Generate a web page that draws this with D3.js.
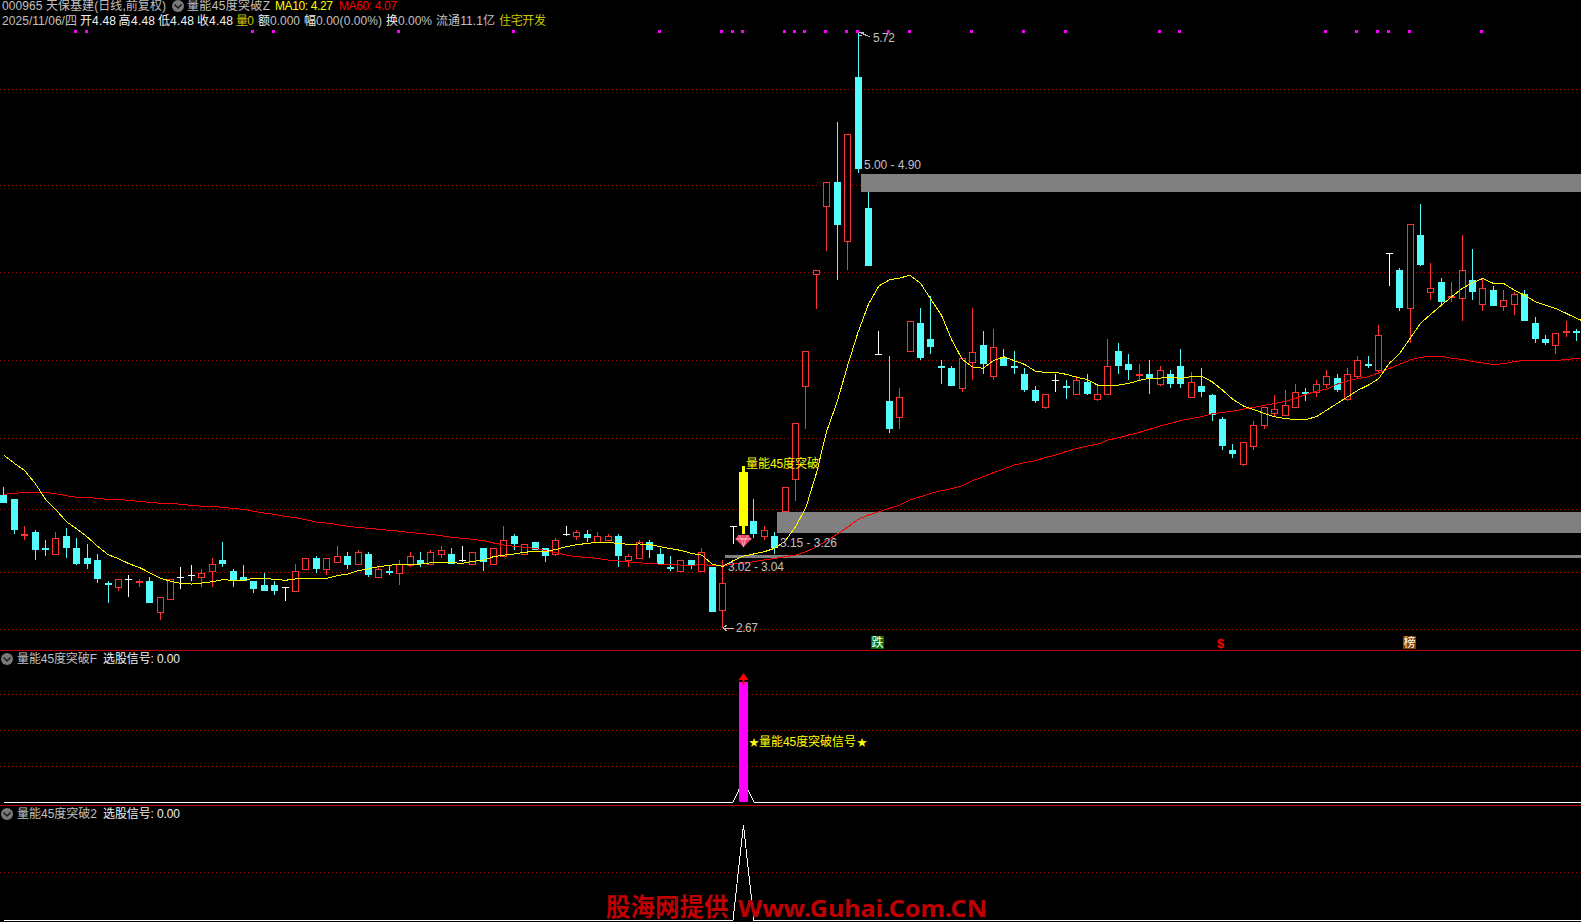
<!DOCTYPE html>
<html><head><meta charset="utf-8">
<style>html,body{margin:0;background:#000;overflow:hidden}svg{display:block}text{font-family:"Liberation Sans","Noto Sans CJK SC",sans-serif;font-size:12px;dominant-baseline:central}</style>
<script src="https://cdn.jsdelivr.net/npm/d3@7/dist/d3.min.js"></script></head><body>
<svg id="c" width="1581" height="922"></svg>
<script>
const opens=[3.35,3.33,3.14,3.16,3.08,3.05,3.14,3.08,3.03,3.02,2.90,2.88,2.92,2.90,2.91,2.75,2.82,2.93,2.94,2.93,2.96,3.02,2.96,2.93,2.91,2.89,2.89,2.88,2.86,2.97,3.03,2.97,3.01,3.04,3.00,3.05,2.93,2.96,2.95,2.99,3.02,3.00,3.05,3.05,3.02,3.00,3.08,3.00,3.04,3.14,3.05,3.11,3.08,3.05,3.15,3.14,3.15,3.11,3.12,3.14,3.02,3.03,3.11,3.05,2.98,2.96,3.02,2.96,2.98,2.76,3.19,3.19,3.22,3.14,3.14,3.27,3.43,3.91,4.48,4.83,4.95,4.65,5.49,4.82,4.07,3.83,3.75,4.09,4.23,4.15,4.01,4.00,3.90,4.03,4.12,3.96,4.05,4.01,3.97,3.89,3.80,3.94,3.91,3.87,3.93,3.84,3.87,4.09,4.02,3.96,3.97,3.92,3.97,4.01,3.85,3.91,3.86,3.74,3.58,3.51,3.60,3.71,3.77,3.76,3.80,3.88,3.88,3.92,3.95,3.84,3.96,4.02,3.99,4.59,4.50,4.31,4.68,4.39,4.44,4.36,4.36,4.45,4.33,4.40,4.32,4.33,4.38,4.23,4.15,4.12,4.18,4.19];
const highs=[3.39,3.33,3.19,3.17,3.12,3.16,3.18,3.13,3.10,3.05,2.91,2.92,2.94,2.92,2.93,2.83,2.92,2.98,2.99,2.97,3.03,3.11,2.97,2.99,2.91,2.95,2.91,2.88,3.00,3.03,3.04,3.03,3.09,3.06,3.07,3.06,2.98,2.99,3.02,3.06,3.06,3.07,3.09,3.08,3.09,3.06,3.08,3.08,3.19,3.15,3.10,3.11,3.08,3.13,3.19,3.17,3.17,3.16,3.15,3.15,3.05,3.12,3.12,3.08,3.04,3.02,3.02,3.08,2.98,3.02,3.19,3.50,3.33,3.19,3.16,3.39,3.72,4.09,4.50,4.95,5.26,5.20,5.72,4.95,4.19,4.06,3.90,4.24,4.31,4.37,4.04,4.01,4.05,4.31,4.19,4.20,4.10,4.09,4.00,3.91,3.87,3.97,3.94,3.96,3.97,3.91,4.15,4.13,4.07,4.02,4.04,4.01,3.99,4.10,3.98,4.00,3.87,3.75,3.61,3.62,3.73,3.80,3.86,3.89,3.92,3.90,3.94,3.99,3.97,4.00,4.06,4.06,4.22,4.59,4.51,4.74,4.84,4.54,4.46,4.44,4.68,4.61,4.46,4.42,4.40,4.39,4.40,4.26,4.17,4.18,4.24,4.20];
const lows=[3.31,3.15,3.12,3.02,3.04,3.05,3.03,2.99,2.97,2.90,2.80,2.86,2.83,2.88,2.80,2.71,2.82,2.87,2.91,2.88,2.88,2.98,2.88,2.91,2.85,2.86,2.84,2.81,2.86,2.97,2.95,2.94,3.01,2.97,2.99,2.93,2.93,2.94,2.89,2.98,2.98,3.00,3.03,3.00,3.01,2.99,2.96,3.00,3.04,3.07,3.05,3.07,3.01,3.04,3.14,3.12,3.11,3.11,3.12,2.98,2.98,3.03,3.03,2.99,2.96,2.96,2.97,2.96,2.75,2.67,3.10,3.15,3.13,3.12,3.05,3.27,3.32,3.69,4.30,4.60,4.45,4.50,5.00,4.52,4.07,3.67,3.69,4.09,4.04,4.07,3.92,3.91,3.88,3.94,3.97,3.94,4.01,3.97,3.88,3.82,3.79,3.88,3.84,3.87,3.86,3.83,3.86,3.97,3.94,3.94,3.87,3.91,3.90,3.90,3.85,3.85,3.73,3.58,3.54,3.50,3.58,3.69,3.75,3.76,3.80,3.83,3.85,3.90,3.88,3.83,3.95,4.00,3.97,4.42,4.29,4.13,4.52,4.35,4.33,4.34,4.24,4.35,4.29,4.32,4.29,4.27,4.24,4.13,4.12,4.07,4.16,4.14];
const closes=[3.31,3.17,3.15,3.07,3.07,3.13,3.08,3.00,3.00,2.92,2.89,2.92,2.92,2.91,2.80,2.83,2.92,2.93,2.94,2.95,3.00,3.00,2.91,2.91,2.87,2.86,2.86,2.88,2.96,3.03,2.97,3.03,3.04,2.99,3.06,2.94,2.97,2.95,3.00,3.04,3.00,3.06,3.07,3.00,3.02,3.06,3.01,3.08,3.12,3.10,3.10,3.07,3.04,3.12,3.15,3.16,3.13,3.14,3.14,3.04,3.04,3.11,3.07,3.00,2.97,3.02,2.99,3.06,2.75,2.90,3.19,3.47,3.15,3.17,3.08,3.39,3.72,4.09,4.50,4.95,4.73,5.20,5.02,4.52,4.07,3.69,3.85,4.24,4.05,4.11,4.00,3.91,4.05,4.08,4.02,4.11,4.01,4.00,3.89,3.83,3.87,3.94,3.90,3.94,3.87,3.87,4.01,4.01,3.99,3.97,3.95,3.99,3.92,3.92,3.93,3.88,3.76,3.60,3.56,3.62,3.71,3.80,3.79,3.81,3.88,3.87,3.92,3.96,3.89,3.97,4.04,4.01,4.17,4.59,4.31,4.74,4.53,4.41,4.34,4.37,4.50,4.39,4.41,4.32,4.35,4.38,4.24,4.15,4.13,4.18,4.19,4.18];
const ma10=[3.554,3.513,3.475,3.410,3.328,3.275,3.214,3.177,3.136,3.088,3.045,3.025,2.999,2.980,2.953,2.926,2.909,2.898,2.895,2.900,2.907,2.917,2.914,2.914,2.924,2.924,2.919,2.914,2.921,2.924,2.924,2.924,2.938,2.946,2.963,2.973,2.984,2.991,2.996,2.997,2.997,3.004,3.006,3.004,3.001,3.011,3.016,3.035,3.043,3.049,3.057,3.064,3.060,3.072,3.086,3.096,3.103,3.108,3.108,3.103,3.098,3.100,3.098,3.086,3.076,3.067,3.052,3.043,2.997,2.985,3.014,3.038,3.049,3.060,3.078,3.115,3.188,3.287,3.461,3.678,3.828,4.012,4.183,4.326,4.420,4.451,4.461,4.475,4.434,4.352,4.272,4.144,4.045,4.006,3.999,4.038,4.058,4.038,4.019,3.985,3.978,3.978,3.968,3.953,3.942,3.913,3.912,3.913,3.922,3.937,3.948,3.949,3.953,3.948,3.956,3.957,3.930,3.887,3.840,3.806,3.788,3.768,3.751,3.742,3.737,3.737,3.751,3.785,3.819,3.853,3.887,3.913,3.947,4.024,4.075,4.152,4.229,4.276,4.322,4.365,4.408,4.437,4.459,4.433,4.433,4.399,4.374,4.340,4.322,4.305,4.280,4.254,4.232];
const ma60=[3.354,3.359,3.364,3.364,3.364,3.357,3.347,3.339,3.339,3.333,3.328,3.328,3.323,3.318,3.313,3.308,3.308,3.303,3.298,3.293,3.293,3.287,3.282,3.277,3.267,3.258,3.252,3.241,3.235,3.224,3.212,3.207,3.200,3.190,3.185,3.180,3.175,3.170,3.165,3.159,3.153,3.149,3.142,3.134,3.129,3.124,3.117,3.105,3.095,3.088,3.083,3.078,3.066,3.055,3.043,3.035,3.031,3.026,3.018,3.013,3.008,3.004,2.999,2.997,2.996,2.992,2.991,2.994,2.991,2.987,2.997,3.003,3.009,3.018,3.026,3.035,3.043,3.060,3.086,3.117,3.151,3.185,3.226,3.248,3.265,3.282,3.298,3.325,3.342,3.359,3.373,3.383,3.398,3.424,3.444,3.465,3.484,3.504,3.516,3.526,3.543,3.555,3.574,3.588,3.601,3.610,3.632,3.644,3.658,3.671,3.687,3.704,3.717,3.732,3.742,3.751,3.766,3.773,3.780,3.790,3.799,3.809,3.819,3.829,3.845,3.865,3.882,3.893,3.918,3.934,3.947,3.956,3.976,3.998,4.020,4.041,4.055,4.060,4.060,4.050,4.044,4.034,4.026,4.019,4.022,4.034,4.039,4.039,4.039,4.039,4.044,4.050,4.053];
const gridPrices=[5.427,4.935,4.49,4.04,3.64,3.277,2.955,2.66];
const bands=[[4.995,4.90,82],[3.265,3.155,74],[3.043,3.028,69]];
const signalIdx=71;
const dotIdx=[7,8,24,26,38,49,63,69,70,71,75,76,77,79,81,82,85,87,93,98,102,111,113,127,130,132,133,135,142];
const paneFIdx=[0,70,71,72,152], paneFVal=[0,0,0.18,0,0];
const pane2Idx=[0,70,71,72,152], pane2Val=[0,0,1,0,0];
const paneFGrid=[0.3,0.6,0.9], pane2Grid=[0.5];

const svg=d3.select('#c');
const x=d3.scaleLinear().domain([0,152]).range([3.4,3.4+10.416*152]);
const y=d3.scaleLinear().domain([2.67,5.72]).range([628,32]);
const yF=d3.scaleLinear().domain([0,1]).range([802,682]);
const y2=d3.scaleLinear().domain([0,1]).range([920,825]);
const col=i=>Math.round(x(i));
const RED='#ff3232',CY='#54fcfc',GRID='#a80000',SEP='#c00000',GR='#c0c0c0',YE='#ffff00';
function hline(g,yy,c,dash,w){g.append('line').attr('x1',0).attr('x2',1581).attr('y1',Math.floor(yy)+.5).attr('y2',Math.floor(yy)+.5).attr('stroke',c).attr('stroke-width',w||1).attr('stroke-dasharray',dash||null).attr('shape-rendering','crispEdges');}
const gGrid=svg.append('g');
gridPrices.forEach(p=>hline(gGrid,y(p),GRID,'1 3'));
paneFGrid.forEach(v=>hline(gGrid,yF(v),GRID,'1 3'));
pane2Grid.forEach(v=>hline(gGrid,y2(v),GRID,'1 3'));
hline(gGrid,650,SEP);hline(gGrid,805,SEP);

// candles
const gC=svg.append('g').attr('shape-rendering','crispEdges');
opens.forEach((o,i)=>{
 const h=highs[i],l=lows[i],c=closes[i],cx=col(i);
 const yH=Math.round(y(h)),yL=Math.round(y(l)),yT=Math.round(y(Math.max(o,c))),yB=Math.round(y(Math.min(o,c)));
 if(i===signalIdx){
  gC.append('rect').attr('x',cx-1).attr('width',3).attr('y',yH).attr('height',yL-yH).attr('fill',YE);
  gC.append('rect').attr('x',cx-4).attr('width',9).attr('y',yT).attr('height',yB-yT).attr('fill',YE);
  return;
 }
 const color=o===c?'#ffffff':(c>o?RED:CY);
 gC.append('rect').attr('x',cx).attr('width',1).attr('y',yH).attr('height',Math.max(1,yL-yH)).attr('fill',color);
 if(o===c){gC.append('rect').attr('x',cx-3).attr('width',7).attr('y',yT).attr('height',1).attr('fill',color);}
 else if(c>o&&yB-yT>=3){
  gC.append('rect').attr('x',cx-3+.5).attr('width',6).attr('y',yT+.5).attr('height',yB-yT).attr('fill','#000').attr('stroke',color);
 } else {
  gC.append('rect').attr('x',cx-3).attr('width',7).attr('y',yT).attr('height',Math.max(2,yB-yT)).attr('fill',color);
 }
});
// bands
bands.forEach(b=>{const t0=Math.round(y(b[0])),t1=Math.round(y(b[1]));svg.append('rect').attr('x',col(b[2])+3).attr('width',1581-col(b[2])-3).attr('y',t0).attr('height',t1-t0).attr('fill','#808080').attr('shape-rendering','crispEdges');});
// MA lines
const ln=d3.line().x((d,i)=>x(i)+.5).y(d=>y(d));
svg.append('path').attr('d',ln(ma60)).attr('fill','none').attr('stroke','#ff0000').attr('shape-rendering','crispEdges');
svg.append('path').attr('d',ln(ma10)).attr('fill','none').attr('stroke',YE).attr('shape-rendering','crispEdges');
// top dots
svg.append('g').selectAll('rect').data(dotIdx).join('rect').attr('x',d=>col(d)-2).attr('y',30).attr('width',3).attr('height',3).attr('fill','#ff00ff');
// gem
const gx=col(signalIdx),gy=535;
const gem=svg.append('g').attr('transform',`translate(${gx+.5},${gy})`);
gem.append('path').attr('d','M-5,0H5L8,4L0,12L-8,4Z').attr('fill','#f04866');
gem.append('path').attr('d','M-5,0L-2,4H2L5,0M-8,4H8M-2,4L0,12L2,4').attr('fill','none').attr('stroke','#ffc0c8').attr('stroke-width',.8);

function t(s,px,py,c,w,opt){const e=svg.append('text').attr('x',px).attr('y',py).attr('fill',c||GR).text(s);if(w)e.attr('textLength',w).attr('lengthAdjust','spacing');if(opt)Object.entries(opt).forEach(([k,v])=>e.style(k,v));return e;}
function chevron(cx,cy){
 svg.append('circle').attr('cx',cx).attr('cy',cy).attr('r',6).attr('fill','#7a7a7a');
 svg.append('path').attr('d',`M${cx-3.5},${cy-1.5}L${cx},${cy+2}L${cx+3.5},${cy-1.5}`).attr('fill','none').attr('stroke','#1a1a1a').attr('stroke-width',1.5);
}
// header line 1
t('000965 天保基建(日线,前复权)',2,6,GR,164);
chevron(178,6);
t('量能45度突破Z',187,6,GR,83);
t('MA10: 4.27',275,6,YE,58);
t('MA60: 4.07',339,6,'#ff0000',58);
// header line 2
const W='#f0f0f0';
[['2025/11/06/四',2,GR,75],['开',80,W],['4.48',92,W,24],['高',118.5,W],['4.48',131,W,24],['低',158,W],['4.48',170,W,24],['收',197,W],['4.48',209,W,24],['量0',236,'#c8c800',18],['额',258,W],['0.000',270,GR,30],['幅',304,W],['0.00(0.00%)',316,GR,66],['换',386,W],['0.00%',398,GR,34],['流通11.1亿',436,GR,59],['住宅开发',499,'#c8c800',47]].forEach(a=>t(a[0],a[1],21,a[2],a[3]));
// pane headers
chevron(7,659);t('量能45度突破F',17,659,GR,80);t('选股信号: 0.00',103,659,W,77);
chevron(7,814);t('量能45度突破2',17,814,GR,80);t('选股信号: 0.00',103,814,W,77);
// price labels
t('5.72',873,38,GR,22);t('5.00 - 4.90',864,165,GR,57);t('3.15 - 3.26',780,543,GR,57);t('3.02 - 3.04',728,567,GR,56);t('2.67',736,628,GR,22);
const arrow=(x1,x2,yy)=>svg.append('path').attr('d',`M${x2},${yy}H${x1}M${x1+4},${yy-3}L${x1},${yy}L${x1+4},${yy+3}`).attr('fill','none').attr('stroke',GR).attr('shape-rendering','crispEdges');
arrow(723,734,628);
svg.append('path').attr('d','M859,32L870,37M859,32H864M859,35H862').attr('fill','none').attr('stroke',GR).attr('shape-rendering','crispEdges');
t('量能45度突破',746,464,YE,73);
// lower panes
const lf=d3.line().x((d,i)=>x(paneFIdx[i])+.5).y(d=>yF(d));
svg.append('path').attr('d',lf(paneFVal)).attr('fill','none').attr('stroke','#fff').attr('shape-rendering','crispEdges');
svg.append('rect').attr('x',col(signalIdx)-4).attr('width',9).attr('y',yF(1)).attr('height',yF(0)-yF(1)).attr('fill','#ff00ff');
const ax=col(signalIdx)+.5;
svg.append('path').attr('d',`M${ax},673L${ax+5},680H${ax-5}Z`).attr('fill','#ff0000');
svg.append('rect').attr('x',ax-1).attr('y',680).attr('width',2).attr('height',5).attr('fill','#ff0000');
t('★',749,742,YE,null,{'font-size':'10px'});t('量能45度突破信号',759,742,YE,97);t('★',857,742,YE,null,{'font-size':'10px'});
const l2=d3.line().x((d,i)=>x(pane2Idx[i])+.5).y(d=>y2(d));
svg.append('path').attr('d',l2(pane2Val)).attr('fill','none').attr('stroke','#fff').attr('shape-rendering','crispEdges');
// tags
function tag(s,bx,bg){svg.append('rect').attr('x',bx).attr('y',636).attr('width',13).attr('height',13).attr('fill',bg);t(s,bx+.5,642.5,'#fff',null,{'font-size':'12px'});}
tag('跌',871,'#007000');tag('榜',1403,'#804000');
t('$',1217,643,'#ff0000',null,{'font-size':'13px','font-weight':'bold'});
// watermark
t('股海网提供',606,907,'#c00000',null,{'font-size':'24.5px','font-weight':'bold'});
t('Www.Guhai.Com.CN',738,907,'#c00000',249,{'font-size':'24px','font-weight':'bold','font-family':'"Noto Sans"'}).attr('lengthAdjust','spacingAndGlyphs');
</script></body></html>
